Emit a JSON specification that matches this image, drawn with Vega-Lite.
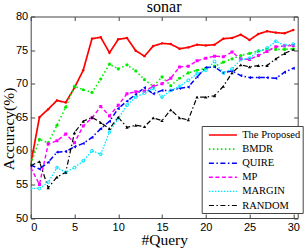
{
  "$schema": "https://vega.github.io/schema/vega-lite/v6.json",
  "width": 267,
  "height": 201.5,
  "autosize": "none",
  "padding": {"left": 30.7, "top": 16.5, "right": 10.3, "bottom": 31},
  "background": "white",
  "title": {"text": "sonar", "font": "Liberation Serif", "fontSize": 16, "fontWeight": "normal", "color": "black", "anchor": "middle", "frame": "group", "offset": -4.5},
  "config": {
    "view": {"stroke": "#444", "strokeWidth": 1},
    "axis": {"grid": false, "domain": false, "labelFont": "Liberation Sans", "labelFontSize": 11, "labelColor": "black", "tickColor": "#444", "tickSize": -4, "labelPadding": 7, "titleFont": "Liberation Serif", "titleFontSize": 15.5, "titleFontWeight": "normal", "titleColor": "black"}
  },
  "data": {"values": [
    {"q":0,"s":"The Proposed","v":58.0},{"q":1,"s":"The Proposed","v":65.0},{"q":2,"s":"The Proposed","v":66.2},{"q":3,"s":"The Proposed","v":67.5},{"q":4,"s":"The Proposed","v":67.2},{"q":5,"s":"The Proposed","v":69.4},{"q":6,"s":"The Proposed","v":72.0},{"q":7,"s":"The Proposed","v":76.7},{"q":8,"s":"The Proposed","v":76.9},{"q":9,"s":"The Proposed","v":74.6},{"q":10,"s":"The Proposed","v":76.6},{"q":11,"s":"The Proposed","v":76.8},{"q":12,"s":"The Proposed","v":74.9},{"q":13,"s":"The Proposed","v":74.1},{"q":14,"s":"The Proposed","v":75.6},{"q":15,"s":"The Proposed","v":76.0},{"q":16,"s":"The Proposed","v":75.9},{"q":17,"s":"The Proposed","v":75.2},{"q":18,"s":"The Proposed","v":75.4},{"q":19,"s":"The Proposed","v":75.8},{"q":20,"s":"The Proposed","v":75.7},{"q":21,"s":"The Proposed","v":75.8},{"q":22,"s":"The Proposed","v":76.7},{"q":23,"s":"The Proposed","v":76.8},{"q":24,"s":"The Proposed","v":77.3},{"q":25,"s":"The Proposed","v":76.5},{"q":26,"s":"The Proposed","v":77.4},{"q":27,"s":"The Proposed","v":77.8},{"q":28,"s":"The Proposed","v":77.6},{"q":29,"s":"The Proposed","v":77.5},{"q":30,"s":"The Proposed","v":78.0},
    {"q":0,"s":"BMDR","v":58.0},{"q":1,"s":"BMDR","v":61.7},{"q":2,"s":"BMDR","v":61.2},{"q":3,"s":"BMDR","v":63.8},{"q":4,"s":"BMDR","v":66.5},{"q":5,"s":"BMDR","v":69.6},{"q":6,"s":"BMDR","v":69.1},{"q":7,"s":"BMDR","v":68.7},{"q":8,"s":"BMDR","v":70.7},{"q":9,"s":"BMDR","v":72.9},{"q":10,"s":"BMDR","v":72.2},{"q":11,"s":"BMDR","v":72.8},{"q":12,"s":"BMDR","v":71.9},{"q":13,"s":"BMDR","v":70.6},{"q":14,"s":"BMDR","v":69.6},{"q":15,"s":"BMDR","v":71.0},{"q":16,"s":"BMDR","v":69.7},{"q":17,"s":"BMDR","v":70.8},{"q":18,"s":"BMDR","v":71.6},{"q":19,"s":"BMDR","v":72.0},{"q":20,"s":"BMDR","v":72.3},{"q":21,"s":"BMDR","v":72.6},{"q":22,"s":"BMDR","v":73.2},{"q":23,"s":"BMDR","v":73.7},{"q":24,"s":"BMDR","v":74.2},{"q":25,"s":"BMDR","v":74.5},{"q":26,"s":"BMDR","v":74.9},{"q":27,"s":"BMDR","v":75.1},{"q":28,"s":"BMDR","v":75.1},{"q":29,"s":"BMDR","v":75.1},{"q":30,"s":"BMDR","v":75.2},
    {"q":0,"s":"QUIRE","v":57.9},{"q":1,"s":"QUIRE","v":57.3},{"q":2,"s":"QUIRE","v":58.3},{"q":3,"s":"QUIRE","v":59.8},{"q":4,"s":"QUIRE","v":59.9},{"q":5,"s":"QUIRE","v":60.6},{"q":6,"s":"QUIRE","v":61.1},{"q":7,"s":"QUIRE","v":62.0},{"q":8,"s":"QUIRE","v":63.3},{"q":9,"s":"QUIRE","v":64.4},{"q":10,"s":"QUIRE","v":66.3},{"q":11,"s":"QUIRE","v":67.4},{"q":12,"s":"QUIRE","v":68.4},{"q":13,"s":"QUIRE","v":69.4},{"q":14,"s":"QUIRE","v":68.5},{"q":15,"s":"QUIRE","v":69.0},{"q":16,"s":"QUIRE","v":69.0},{"q":17,"s":"QUIRE","v":69.3},{"q":18,"s":"QUIRE","v":69.5},{"q":19,"s":"QUIRE","v":71.0},{"q":20,"s":"QUIRE","v":72.4},{"q":21,"s":"QUIRE","v":72.5},{"q":22,"s":"QUIRE","v":71.6},{"q":23,"s":"QUIRE","v":71.9},{"q":24,"s":"QUIRE","v":71.2},{"q":25,"s":"QUIRE","v":70.9},{"q":26,"s":"QUIRE","v":70.9},{"q":27,"s":"QUIRE","v":70.9},{"q":28,"s":"QUIRE","v":70.8},{"q":29,"s":"QUIRE","v":71.7},{"q":30,"s":"QUIRE","v":72.3},
    {"q":0,"s":"MP","v":57.5},{"q":1,"s":"MP","v":55.0},{"q":2,"s":"MP","v":61.0},{"q":3,"s":"MP","v":61.5},{"q":4,"s":"MP","v":62.5},{"q":5,"s":"MP","v":61.2},{"q":6,"s":"MP","v":63.7},{"q":7,"s":"MP","v":64.9},{"q":8,"s":"MP","v":66.6},{"q":9,"s":"MP","v":65.2},{"q":10,"s":"MP","v":66.8},{"q":11,"s":"MP","v":68.5},{"q":12,"s":"MP","v":68.8},{"q":13,"s":"MP","v":68.9},{"q":14,"s":"MP","v":69.6},{"q":15,"s":"MP","v":70.0},{"q":16,"s":"MP","v":70.8},{"q":17,"s":"MP","v":72.5},{"q":18,"s":"MP","v":72.6},{"q":19,"s":"MP","v":73.4},{"q":20,"s":"MP","v":73.8},{"q":21,"s":"MP","v":74.1},{"q":22,"s":"MP","v":74.0},{"q":23,"s":"MP","v":74.7},{"q":24,"s":"MP","v":73.7},{"q":25,"s":"MP","v":73.6},{"q":26,"s":"MP","v":74.2},{"q":27,"s":"MP","v":74.8},{"q":28,"s":"MP","v":75.5},{"q":29,"s":"MP","v":75.6},{"q":30,"s":"MP","v":75.7},
    {"q":0,"s":"MARGIN","v":54.4},{"q":1,"s":"MARGIN","v":54.4},{"q":2,"s":"MARGIN","v":55.3},{"q":3,"s":"MARGIN","v":57.5},{"q":4,"s":"MARGIN","v":56.8},{"q":5,"s":"MARGIN","v":57.5},{"q":6,"s":"MARGIN","v":58.5},{"q":7,"s":"MARGIN","v":60.0},{"q":8,"s":"MARGIN","v":59.5},{"q":9,"s":"MARGIN","v":62.8},{"q":10,"s":"MARGIN","v":64.8},{"q":11,"s":"MARGIN","v":66.8},{"q":12,"s":"MARGIN","v":68.0},{"q":13,"s":"MARGIN","v":68.6},{"q":14,"s":"MARGIN","v":69.3},{"q":15,"s":"MARGIN","v":68.0},{"q":16,"s":"MARGIN","v":69.0},{"q":17,"s":"MARGIN","v":69.6},{"q":18,"s":"MARGIN","v":70.5},{"q":19,"s":"MARGIN","v":71.5},{"q":20,"s":"MARGIN","v":72.0},{"q":21,"s":"MARGIN","v":73.3},{"q":22,"s":"MARGIN","v":71.6},{"q":23,"s":"MARGIN","v":72.2},{"q":24,"s":"MARGIN","v":73.6},{"q":25,"s":"MARGIN","v":73.8},{"q":26,"s":"MARGIN","v":74.8},{"q":27,"s":"MARGIN","v":75.3},{"q":28,"s":"MARGIN","v":76.3},{"q":29,"s":"MARGIN","v":75.7},{"q":30,"s":"MARGIN","v":75.9},
    {"q":0,"s":"RANDOM","v":57.8},{"q":1,"s":"RANDOM","v":58.4},{"q":2,"s":"RANDOM","v":54.5},{"q":3,"s":"RANDOM","v":56.1},{"q":4,"s":"RANDOM","v":56.8},{"q":5,"s":"RANDOM","v":62.7},{"q":6,"s":"RANDOM","v":64.4},{"q":7,"s":"RANDOM","v":65.0},{"q":8,"s":"RANDOM","v":64.2},{"q":9,"s":"RANDOM","v":63.3},{"q":10,"s":"RANDOM","v":65.0},{"q":11,"s":"RANDOM","v":63.5},{"q":12,"s":"RANDOM","v":63.8},{"q":13,"s":"RANDOM","v":63.6},{"q":14,"s":"RANDOM","v":64.9},{"q":15,"s":"RANDOM","v":64.5},{"q":16,"s":"RANDOM","v":66.1},{"q":17,"s":"RANDOM","v":64.9},{"q":18,"s":"RANDOM","v":64.6},{"q":19,"s":"RANDOM","v":68.0},{"q":20,"s":"RANDOM","v":68.0},{"q":21,"s":"RANDOM","v":68.2},{"q":22,"s":"RANDOM","v":69.6},{"q":23,"s":"RANDOM","v":71.6},{"q":24,"s":"RANDOM","v":72.8},{"q":25,"s":"RANDOM","v":72.5},{"q":26,"s":"RANDOM","v":72.7},{"q":27,"s":"RANDOM","v":72.7},{"q":28,"s":"RANDOM","v":73.7},{"q":29,"s":"RANDOM","v":74.5},{"q":30,"s":"RANDOM","v":75.1}
  ]},
  "layer": [
    {
      "mark": {"type": "line", "clip": true},
      "encoding": {
        "x": {"field": "q", "type": "quantitative", "scale": {"domain": [0, 30.5], "nice": false, "zero": false}, "axis": {"values": [0,5,10,15,20,25,30], "title": "#Query", "titleY": 26, "titleBaseline": "alphabetic"}},
        "y": {"field": "v", "type": "quantitative", "scale": {"domain": [50, 80], "nice": false, "zero": false}, "axis": {"values": [50,55,60,65,70,75,80], "title": "Accuracy(%)", "titleX": -17, "titleY": 112, "titleAngle": -90, "titleAlign": "center", "titleBaseline": "alphabetic"}},
        "color": {"field": "s", "type": "nominal", "sort": null, "scale": {"domain": ["The Proposed","BMDR","QUIRE","MP","MARGIN","RANDOM"], "range": ["#ff0000","#00ee00","#0000ff","#ff00ff","#00e5ff","#000000"]},
          "legend": {"title": null, "orient": "none", "legendX": 171, "legendY": 109.5, "fillColor": "white", "strokeColor": "#444", "padding": 2, "symbolType": "M-0.3,0H4.37", "symbolSize": 144, "symbolStrokeWidth": 1.5, "labelFont": "Liberation Serif", "labelFontSize": 10.5, "labelColor": "black", "labelOffset": 24.5, "rowPadding": 1.1, "labelLimit": 200}},
        "strokeDash": {"field": "s", "type": "nominal", "sort": null, "scale": {"domain": ["The Proposed","BMDR","QUIRE","MP","MARGIN","RANDOM"], "range": [[1,0],[1.5,2.5],[5,2.5,1.5,2.5],[4,2.5],[1.5,1.5],[5,2.5,1.5,2.5]]}},
        "strokeWidth": {"field": "s", "type": "nominal", "scale": {"domain": ["The Proposed","BMDR","QUIRE","MP","MARGIN","RANDOM"], "range": [1.7,1.2,1.2,1.2,1.1,1.1]}, "legend": null},
        "detail": {"field": "s"}
      }
    },
    {
      "encoding": {
        "x": {"field": "q", "type": "quantitative", "axis": {"orient": "top", "values": [0,5,10,15,20,25,30], "labels": false, "title": null}},
        "y": {"field": "v", "type": "quantitative", "axis": {"orient": "right", "values": [50,55,60,65,70,75,80], "labels": false, "title": null}}
      },
      "layer": [
        {"transform": [{"filter": "datum.s == 'The Proposed'"}], "mark": {"type": "point", "clip": true, "shape": "circle", "filled": true, "color": "#ff0000", "size": 6, "opacity": 1}},
        {"transform": [{"filter": "datum.s == 'BMDR'"}], "mark": {"type": "point", "clip": true, "shape": "circle", "filled": true, "color": "#00ee00", "size": 10, "opacity": 1}},
        {"transform": [{"filter": "datum.s == 'QUIRE'"}], "mark": {"type": "point", "clip": true, "shape": "triangle-left", "filled": true, "color": "#0000ff", "size": 11, "opacity": 1}},
        {"transform": [{"filter": "datum.s == 'MP'"}], "mark": {"type": "point", "clip": true, "shape": "square", "filled": true, "color": "#ff00ff", "size": 9, "opacity": 1}},
        {"transform": [{"filter": "datum.s == 'MARGIN'"}], "mark": {"type": "point", "clip": true, "shape": "circle", "filled": false, "color": "#00e5ff", "strokeWidth": 1, "size": 8, "opacity": 1}},
        {"transform": [{"filter": "datum.s == 'RANDOM'"}], "mark": {"type": "point", "clip": true, "shape": "triangle-up", "filled": true, "color": "#000000", "size": 11, "opacity": 1}}
      ]
    }
  ],
  "resolve": {"axis": {"x": "independent", "y": "independent"}}
}
